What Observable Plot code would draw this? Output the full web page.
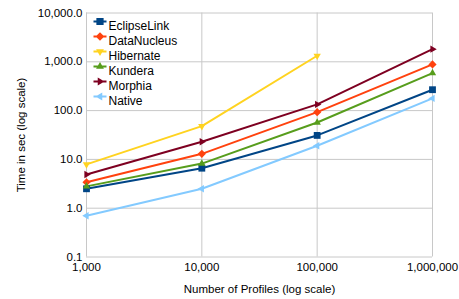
<!DOCTYPE html>
<html><head><meta charset="utf-8">
<script src="https://cdn.jsdelivr.net/npm/d3@7"></script>
<script src="https://cdn.jsdelivr.net/npm/@observablehq/plot@0.6"></script>
<style>
body{margin:0;background:#fff;}
#chart svg{font-family:"Liberation Sans",Arial,sans-serif;}
</style></head>
<body><div id="chart"></div>
<script>
const profiles = [1000, 10000, 100000, 1000000];
const seriesNames = ["EclipseLink", "DataNucleus", "Hibernate", "Kundera", "Morphia", "Native"];
const eclipseLink = [2.5, 6.6, 31, 268];
const dataNucleus = [3.4, 13, 93, 883];
const hibernate = [7.9, 48, 1330, null];
const kundera = [2.8, 8.2, 57, 586];
const morphia = [4.9, 23, 134, 1815];
const native = [0.70, 2.5, 19, 178];
const colors = ["#004586", "#ff420e", "#ffd320", "#579d1c", "#7e0021", "#83caff"];
const yTicks = [0.1, 1, 10, 100, 1000, 10000];
const xTicks = [1000, 10000, 100000, 1000000];

const allValues = [eclipseLink, dataNucleus, hibernate, kundera, morphia, native];

// marker shape paths
const triPath = (ctx, size, angle) => {
  const r = Math.sqrt(size) * 0.75;
  for (let k = 0; k < 3; k++) {
    const a = angle + k * 2 * Math.PI / 3;
    const px = r * Math.cos(a), py = r * Math.sin(a);
    k === 0 ? ctx.moveTo(px, py) : ctx.lineTo(px, py);
  }
  ctx.closePath();
};
const shapeDraw = {
  EclipseLink: (ctx, size) => { const h = Math.sqrt(size) * 0.6; ctx.rect(-h, -h, 2 * h, 2 * h); },
  DataNucleus: (ctx, size) => { const r = Math.sqrt(size) * 0.72; ctx.moveTo(0, -r); ctx.lineTo(r, 0); ctx.lineTo(0, r); ctx.lineTo(-r, 0); ctx.closePath(); },
  Hibernate: (ctx, size) => triPath(ctx, size, Math.PI / 2),
  Kundera: (ctx, size) => triPath(ctx, size, -Math.PI / 2),
  Morphia: (ctx, size) => triPath(ctx, size, 0),
  Native: (ctx, size) => triPath(ctx, size, Math.PI)
};
const shapes = Object.fromEntries(seriesNames.map(s => [s, {draw: shapeDraw[s]}]));
// legend key: short line with the marker on it
const legendShapes = Object.fromEntries(seriesNames.map(s => [s, {
  draw(ctx, size) { ctx.rect(-6.5, -1, 13, 2); shapeDraw[s](ctx, size); }
}]));

const data = [];
seriesNames.forEach((s, i) => {
  profiles.forEach((p, j) => {
    const v = allValues[i][j];
    if (v != null) data.push({series: s, profiles: p, time: v});
  });
});

const legend = seriesNames.flatMap((s, i) => {
  const item = [{series: s}];
  return [
    Plot.dot(item, {frameAnchor: "top-left", dx: 13.5, dy: 8.5 + i * 15, symbol: () => legendShapes[s], fill: colors[i], stroke: null, r: 3.4}),
    Plot.text(item, {frameAnchor: "top-left", dx: 22, dy: 8.5 + i * 15, text: "series", fill: "#000", fontSize: 12, textAnchor: "start"})
  ];
});

const chart = Plot.plot({
  width: 459,
  height: 299,
  marginLeft: 86,
  marginRight: 27,
  marginTop: 12.5,
  marginBottom: 42.5,
  style: {fontFamily: "Liberation Sans, Arial, sans-serif", fontSize: "11.5px", color: "#000", background: "#fff"},
  x: {type: "log", domain: [1000, 1000000], ticks: xTicks, tickFormat: d3.format(","), tickSize: 0, tickPadding: 6, label: "Number of Profiles (log scale)", labelAnchor: "center", labelArrow: "none", labelOffset: 36},
  y: {type: "log", domain: [0.1, 10000], ticks: yTicks, tickFormat: d3.format(",.1f"), tickSize: 0, tickPadding: 4, label: "Time in sec (log scale)", labelAnchor: "center", labelArrow: "none", labelOffset: 70},
  color: {domain: seriesNames, range: colors},
  symbol: {domain: seriesNames, range: seriesNames.map(s => shapes[s])},
  marks: [
    Plot.gridX(xTicks, {stroke: "#c8c8c8", strokeOpacity: 1, strokeWidth: 1}),
    Plot.gridY(yTicks, {stroke: "#c8c8c8", strokeOpacity: 1, strokeWidth: 1}),
    Plot.line(data, {x: "profiles", y: "time", z: "series", stroke: "series", strokeWidth: 2}),
    Plot.dot(data, {x: "profiles", y: "time", symbol: "series", fill: "series", stroke: null, r: 3.2}),
    ...legend
  ]
});
document.getElementById("chart").appendChild(chart);
</script>
</body></html>
